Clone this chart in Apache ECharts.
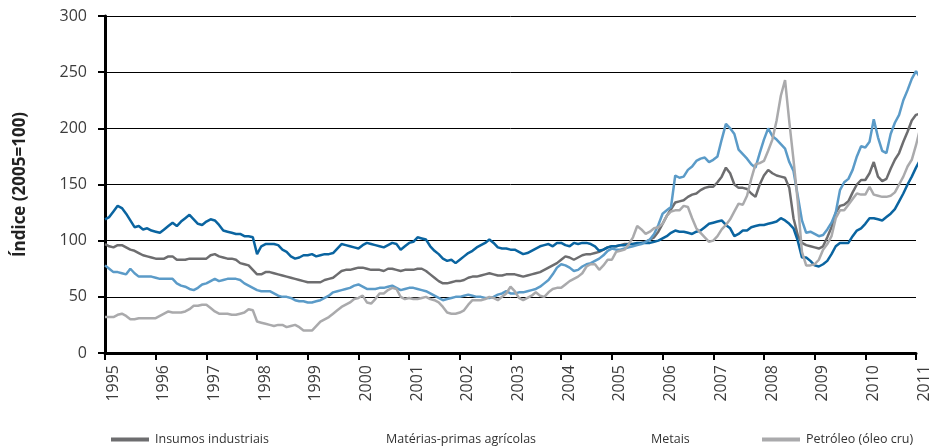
<!DOCTYPE html>
<html>
<head>
<meta charset="utf-8">
<script src="https://cdn.jsdelivr.net/npm/echarts@6/dist/echarts.min.js"></script>
<style>
html,body{margin:0;padding:0;background:#fff;}
#chart{width:932px;height:448px;}
</style>
</head>
<body>
<div id="chart"></div>
<script>
// Monthly data, Jan 1995 .. Feb 2011
const startYear = 1995;
const yearTicks = [1995,1996,1997,1998,1999,2000,2001,2002,2003,2004,2005,2006,2007,2008,2009,2010,2011];
const seriesNames = ['Insumos industriais','Matérias-primas agrícolas','Metais','Petróleo (óleo cru)'];

const insumos = [
 97,95,94,96,96,94,92,91,89,87,86,85,
 84,84,84,86,86,83,83,83,84,84,84,84,
 84,87,88,86,85,84,84,83,80,79,78,74,
 70,70,72,72,71,70,69,68,67,66,65,64,
 63,63,63,63,65,66,67,70,73,74,74,75,
 76,76,75,74,74,74,73,75,75,74,73,74,
 74,74,75,75,73,70,67,64,62,62,63,64,
 64,65,67,68,68,69,70,71,70,69,69,70,
 70,70,69,68,69,70,71,72,74,76,78,80,
 83,86,85,83,85,87,88,88,89,90,92,94,
 95,95,96,97,97,97,97,98,99,101,103,108,
 115,122,128,134,135,136,139,141,142,145,147,148,
 148,152,157,165,160,150,147,147,146,142,139,150,
 158,163,160,158,157,156,147,120,105,98,96,95,
 94,93,95,103,112,125,131,132,135,143,150,154,
 154,160,170,157,153,155,164,172,178,188,197,207,
 212,213
];
const agricolas = [
 119,121,126,131,129,124,118,112,113,110,111,109,
 108,107,110,113,116,113,117,120,123,119,115,114,
 117,119,118,114,109,108,107,106,106,104,104,103,
 88,95,97,97,97,96,92,90,86,84,85,87,
 87,88,86,87,88,88,89,93,97,96,95,94,
 93,96,98,97,96,95,94,96,98,97,92,95,
 98,99,103,102,101,95,91,88,84,82,83,80,
 83,86,89,91,94,96,98,101,98,94,93,93,
 92,92,90,88,89,91,93,95,96,97,95,98,
 98,96,95,98,97,98,98,97,95,91,92,94,
 95,95,96,96,97,97,98,98,98,98,99,100,
 102,104,107,109,108,108,107,106,108,109,112,115,
 116,117,118,114,111,104,106,109,109,112,113,114,
 114,115,116,117,120,118,115,111,100,85,85,82,
 78,77,79,82,88,95,98,98,98,104,109,111,
 115,120,120,119,118,121,124,128,135,142,150,157,
 165,172
];
const metais = [
 78,75,72,72,71,70,75,71,68,68,68,68,
 67,66,66,66,66,62,60,59,57,56,58,61,
 62,64,66,64,65,66,66,66,65,62,60,58,
 56,55,55,55,53,51,50,50,49,47,46,46,
 45,45,46,47,49,51,54,55,56,57,58,60,
 61,59,57,57,57,58,58,59,60,58,56,57,
 58,58,57,56,55,53,51,49,47,48,49,50,
 50,51,52,51,50,50,49,49,50,52,53,55,
 53,53,54,54,55,56,57,59,62,65,70,76,
 79,78,76,73,74,77,79,80,82,84,87,91,
 93,92,92,93,94,95,96,97,99,101,106,114,
 124,127,130,158,156,157,163,166,171,173,174,170,
 172,175,190,204,200,195,181,177,173,168,165,178,
 190,200,193,190,186,182,170,162,140,118,107,108,
 106,104,105,110,116,125,145,152,155,163,175,184,
 183,188,208,192,180,178,195,205,212,225,234,244,
 251,245
];
const petroleo = [
 32,32,32,34,35,33,30,30,31,31,31,31,
 31,33,35,37,36,36,36,37,39,42,42,43,
 43,40,37,35,35,35,34,34,35,36,39,38,
 28,27,26,25,24,25,25,23,24,25,23,20,
 20,20,24,28,30,32,35,38,41,43,45,48,
 49,51,45,44,48,53,53,56,58,57,50,48,
 49,48,48,49,50,48,47,45,41,36,35,35,
 36,38,43,47,47,47,48,50,49,47,50,53,
 59,55,49,47,49,51,54,51,50,54,57,58,
 58,61,64,66,68,71,77,79,79,74,78,83,
 83,90,91,92,97,103,113,110,106,108,111,112,
 115,122,126,127,127,131,130,120,111,107,103,99,
 100,104,110,114,119,126,133,132,140,155,168,169,
 171,180,190,207,229,243,206,172,135,90,78,78,
 79,83,92,97,104,120,127,127,132,137,142,141,
 141,148,141,140,139,139,140,143,150,157,166,172,
 185,200
];

const colors = ['#6d6d6f','#0a64a0','#5b9bc8','#aaaaac'];
const toPairs = arr => arr.map((v,i) => [startYear + i/12, v]);
const FONT = "'Open Sans', 'Noto Sans', sans-serif";

const chart = echarts.init(document.getElementById('chart'), null, {renderer:'canvas'});

function mkLegend(name, left, hidden) {
  return {
    left: left, top: 428, itemWidth: 38, itemHeight: 4, itemGap: 0,
    data: [{name: name, icon: 'rect', itemStyle: {opacity: hidden ? 0 : 1}}],
    selectedMode: false,
    textStyle: {fontFamily: FONT, fontSize: 12.5, color: '#333', padding: [0,0,0,1]}
  };
}

const option = {
  animation: false,
  backgroundColor: '#fff',
  color: colors,
  grid: {left: 105, right: 10, top: 16, bottom: 95, containLabel: false},
  legend: [
    mkLegend(seriesNames[0], 106, false),
    mkLegend(seriesNames[1], 337, true),
    mkLegend(seriesNames[2], 602, true),
    mkLegend(seriesNames[3], 757, false)
  ],
  xAxis: {
    type: 'value', min: yearTicks[0], max: yearTicks[yearTicks.length-1], interval: 1,
    axisLine: {show: true, lineStyle: {color: '#000', width: 3}},
    axisTick: {show: true, length: 7, lineStyle: {color: '#000', width: 2}},
    splitLine: {show: false},
    axisLabel: {
      rotate: 90, margin: 12, verticalAlign: 'top',
      fontFamily: FONT, fontSize: 16, color: '#3c3c3c',
      formatter: v => String(Math.round(v))
    }
  },
  yAxis: {
    type: 'value', min: 0, max: 300, interval: 50,
    name: 'Índice (2005=100)', nameLocation: 'middle', nameGap: 76,
    nameTextStyle: {fontFamily: FONT, fontSize: 17, fontWeight: 'bold', color: '#222'},
    axisLine: {show: true, lineStyle: {color: '#000', width: 3}},
    axisTick: {show: true, length: 7, lineStyle: {color: '#000', width: 2}},
    splitLine: {show: true, lineStyle: {color: '#000', width: 1}},
    axisLabel: {margin: 18, fontFamily: FONT, fontSize: 16, color: '#3c3c3c'}
  },
  series: [
    {name: seriesNames[0], type: 'line', data: toPairs(insumos)},
    {name: seriesNames[1], type: 'line', data: toPairs(agricolas)},
    {name: seriesNames[2], type: 'line', data: toPairs(metais)},
    {name: seriesNames[3], type: 'line', data: toPairs(petroleo)}
  ].map((s, i) => Object.assign(s, {
    symbol: 'none', showSymbol: false, clip: false,
    lineStyle: {width: 2.5, color: colors[i]},
    itemStyle: {color: colors[i]}
  }))
};
chart.setOption(option);
</script>
</body>
</html>
